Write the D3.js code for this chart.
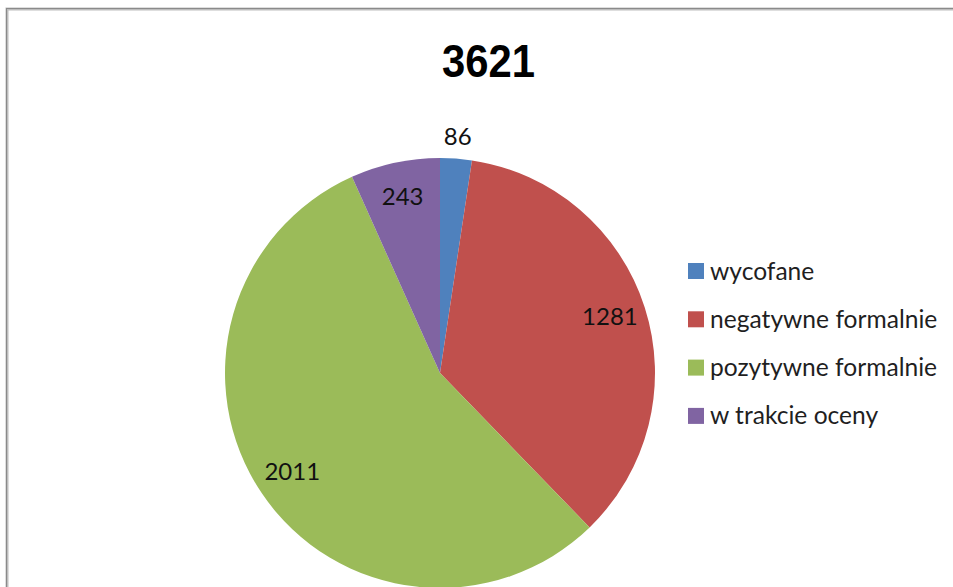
<!DOCTYPE html>
<html>
<head>
<meta charset="utf-8">
<script src="https://d3js.org/d3.v7.min.js"></script>
<style>
  body { margin: 0; background: #fff; }
  svg { display: block; }
</style>
</head>
<body>
<div id="chart"></div>
<script>
// chart data
var title = '3621';
var categories = ['wycofane', 'negatywne formalnie', 'pozytywne formalnie', 'w trakcie oceny'];
var values = [86, 1281, 2011, 243];
var colors = ['#4F81BD', '#C0504D', '#9BBB59', '#8064A2'];

var width = 953, height = 587;
var cx = 440, cy = 373, radius = 215;

var svg = d3.select('#chart')
    .append('svg')
    .attr('width', width)
    .attr('height', height);

// frame around the chart area
svg.append('rect')
    .attr('x', 7).attr('y', 9)
    .attr('width', width + 10).attr('height', height + 10)
    .attr('fill', 'none')
    .attr('stroke', '#bdbdbd')
    .attr('stroke-width', 3);
svg.append('rect')
    .attr('x', 6.5).attr('y', 8.5)
    .attr('width', width + 10).attr('height', height + 10)
    .attr('fill', 'none')
    .attr('stroke', '#8a8a8a')
    .attr('stroke-width', 1);

// title is narrow in the original, so squeeze it a bit
svg.append('text')
    .attr('x', 442)
    .attr('y', 77)
    .attr('textLength', 93)
    .attr('lengthAdjust', 'spacingAndGlyphs')
    .style('font-family', '"Liberation Sans Narrow", "Liberation Sans", Arial, sans-serif')
    .style('font-weight', 'bold')
    .style('font-size', '47px')
    .style('fill', '#000')
    .text(title);

var data = categories.map(function(c, i) { return { name: c, value: values[i] }; });

var color = d3.scaleOrdinal().domain(categories).range(colors);

var pie = d3.pie().sort(null).value(function(d) { return d.value; });
var arcs = pie(data);

var g = svg.append('g')
    .attr('transform', 'translate(' + cx + ',' + cy + ')');

g.selectAll('path')
    .data(arcs)
    .enter()
    .append('path')
    .attr('d', d3.arc().innerRadius(0).outerRadius(radius))
    .attr('fill', function(d) { return color(d.data.name); });

// labels: inside for big slices, just outside for tiny ones
var inside = d3.arc().innerRadius(radius * 0.83).outerRadius(radius * 0.83);
var outside = d3.arc().innerRadius(radius + 23).outerRadius(radius + 23);
var total = d3.sum(values);

g.selectAll('text.lbl')
    .data(arcs)
    .enter()
    .append('text')
    .attr('class', 'lbl')
    .attr('transform', function(d) {
        var small = d.data.value / total < 0.05;
        var p = (small ? outside : inside).centroid(d);
        return 'translate(' + p[0] + ',' + (p[1] - (small ? 0 : 3)) + ')';
    })
    .attr('text-anchor', 'middle')
    .attr('dominant-baseline', 'central')
    .style('font-family', 'Lato, "Open Sans", sans-serif')
    .style('font-size', '24px')
    .style('fill', '#111')
    .text(function(d) { return d.data.value; });

// legend
var legend = svg.append('g')
    .attr('transform', 'translate(688,263)');

var item = legend.selectAll('g')
    .data(categories)
    .enter()
    .append('g')
    .attr('transform', function(d, i) { return 'translate(0,' + (i * 48.3) + ')'; });

item.append('rect')
    .attr('width', 16)
    .attr('height', 16)
    .attr('fill', function(d) { return color(d); });

item.append('text')
    .attr('x', 22)
    .attr('y', 7)
    .attr('dominant-baseline', 'central')
    .style('font-family', 'Lato, "Open Sans", sans-serif')
    .style('font-size', '24.6px')
    .style('fill', '#1f1f1f')
    .text(function(d) { return d; });
</script>
</body>
</html>
